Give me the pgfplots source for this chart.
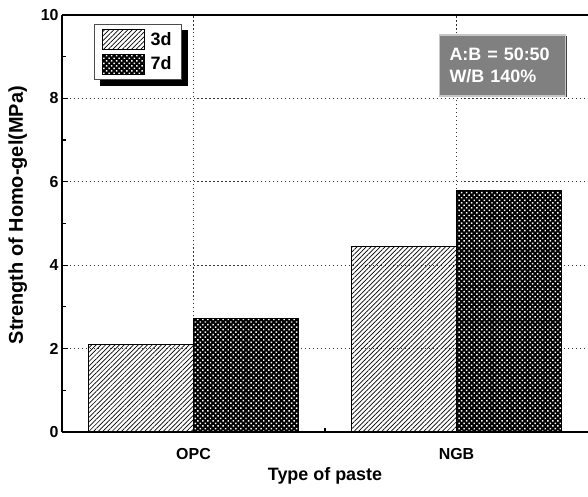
\documentclass[border=0pt]{standalone}
\usepackage{fontspec}
\setmainfont{Liberation Sans}
\usepackage{pgfplots}
\pgfplotsset{compat=1.18}
\usetikzlibrary{patterns.meta,shadows,calc}
\definecolor{boxgray}{RGB}{128,128,128}
\begin{document}
\begin{tikzpicture}
\begin{axis}[
  name=ax,
  scale only axis, width=526bp, height=417bp,
  xmin=0.5, xmax=2.5, ymin=0, ymax=10,
  axis x line*=box, axis y line*=left,
  ybar=0pt, bar width=0.4,
  xtick={1,2}, xticklabels={OPC,NGB},
  minor xtick={1.5},
  ytick={0,2,...,10}, minor ytick={1,3,...,9},
  tick align=inside,
  xtick pos=bottom, ytick pos=left,
  major tick length=6bp, minor tick length=4bp,
  grid=major,
  major grid style={black!80, line width=0.9pt, dash pattern=on 1.2pt off 2.8pt},
  axis line style={line width=1.2pt, black},
  tick style={line width=1.2pt, black},
  ticklabel style={font=\fontsize{16}{19}\selectfont\bfseries},
  xticklabel style={yshift=-13bp},
  /pgf/number format/assume math mode=true,
  xlabel={Type of paste}, ylabel={Strength of Homo-gel(MPa)},
  xlabel style={at={(axis description cs:0.5,-0.105)}, anchor=center, font=\fontsize{18}{21}\selectfont\bfseries},
  ylabel style={at={(axis description cs:-0.084,0.52)}, anchor=center, rotate=0, font=\fontsize{20}{23}\selectfont\bfseries},
  legend style={at={(rel axis cs:0.0608,0.978)}, anchor=north west, fill=white, draw=black!70, line width=0.6pt,
    font=\fontsize{18}{21}\selectfont\bfseries, row sep=4bp, inner xsep=8bp, inner ysep=4.5bp,
    nodes={inner sep=1.5bp},
    /tikz/every odd column/.append style={column sep=4bp}},
  legend image code/.code={\draw[#1, line width=0.8pt] (0bp,-10bp) rectangle (42bp,10bp);},
  legend cell align=left,
]
\fill[black] (rel axis cs:0.0722,0.964) rectangle (rel axis cs:0.2395,0.830);
\addplot[draw=black, line width=1.2pt, pattern={Lines[angle=45,distance=3.3pt,line width=0.7pt]}]
  coordinates {(1,2.1) (2,4.45)};
\addplot[draw=black, line width=1.2pt, fill=black,
  postaction={pattern={Dots[distance=3.6pt,radius=1.05pt,angle=45]}, pattern color=white}]
  coordinates {(1,2.72) (2,5.8)};
\legend{3d,7d}
\node[fill=boxgray, draw=gray!45, line width=1.2pt, text=white,
  font=\fontsize{18}{22}\selectfont\bfseries, align=left,
  inner xsep=10bp, text width=106bp, minimum height=61bp,
  drop shadow={shadow xshift=1.5bp, shadow yshift=-1.5bp, fill=black!75, opacity=1}]
  at (axis cs:2.175,8.79) {A:B = 50:50\\W/B 140\%};
\end{axis}
\pgfresetboundingbox
\path ($(ax.south west)+(-62bp,-65bp)$) rectangle ($(ax.north east)+(0bp,15bp)$);
\end{tikzpicture}
\end{document}
